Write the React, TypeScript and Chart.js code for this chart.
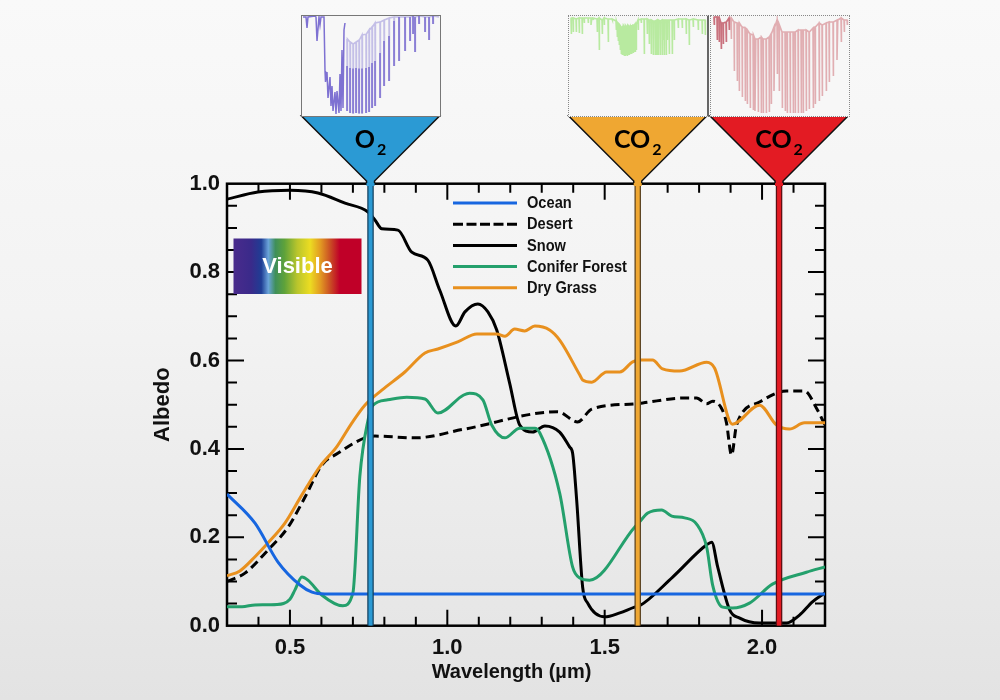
import React, { useEffect, useRef } from "react";
import { Chart, registerables } from "chart.js";

Chart.register(...registerables);

type Pt = [number, number];
type Comb = [number, number, number];

const oceanData: Pt[] = [[0.3,0.298],[0.389,0.232],[0.462,0.144],[0.532,0.092],[0.57,0.076],[0.611,0.072],[1.0,0.072],[1.6,0.072],[2.2,0.072]];
const desertData: Pt[] = [[0.3,0.1],[0.357,0.119],[0.43,0.171],[0.494,0.223],[0.548,0.291],[0.602,0.364],[0.652,0.39],[0.738,0.425],[0.77,0.429],[0.897,0.425],[1.056,0.445],[1.351,0.484],[1.414,0.461],[1.459,0.49],[1.595,0.502],[1.621,0.504],[1.748,0.515],[1.792,0.515],[1.824,0.502],[1.843,0.508],[1.871,0.492],[1.887,0.459],[1.903,0.386],[1.919,0.454],[1.992,0.506],[2.078,0.531],[2.135,0.531],[2.173,0.492],[2.2,0.454]];
const snowData: Pt[] = [[0.3,0.965],[0.398,0.981],[0.5,0.985],[0.589,0.979],[0.675,0.956],[0.748,0.936],[0.77,0.918],[0.792,0.898],[0.843,0.895],[0.887,0.845],[0.938,0.827],[0.976,0.759],[1.027,0.678],[1.056,0.71],[1.097,0.728],[1.129,0.71],[1.157,0.669],[1.198,0.549],[1.23,0.454],[1.271,0.438],[1.31,0.452],[1.357,0.438],[1.389,0.404],[1.398,0.391],[1.411,0.284],[1.43,0.087],[1.446,0.051],[1.5,0.02],[1.548,0.029],[1.595,0.042],[1.611,0.045],[1.716,0.11],[1.824,0.183],[1.84,0.189],[1.859,0.133],[1.897,0.036],[1.929,0.017],[1.992,0.006],[2.078,0.006],[2.119,0.024],[2.16,0.054],[2.2,0.074]];
const coniferData: Pt[] = [[0.3,0.043],[0.348,0.043],[0.389,0.047],[0.459,0.048],[0.5,0.06],[0.516,0.081],[0.538,0.11],[0.557,0.103],[0.602,0.069],[0.668,0.045],[0.7,0.074],[0.722,0.337],[0.748,0.465],[0.763,0.498],[0.811,0.511],[0.871,0.517],[0.929,0.513],[0.97,0.481],[1.052,0.522],[1.071,0.526],[1.113,0.511],[1.141,0.454],[1.183,0.425],[1.23,0.447],[1.278,0.447],[1.294,0.436],[1.357,0.3],[1.398,0.133],[1.421,0.108],[1.452,0.103],[1.595,0.223],[1.611,0.235],[1.637,0.255],[1.681,0.262],[1.713,0.248],[1.754,0.244],[1.792,0.23],[1.824,0.178],[1.843,0.092],[1.875,0.042],[1.906,0.04],[1.96,0.051],[2.033,0.094],[2.141,0.121],[2.2,0.133]];
const grassData: Pt[] = [[0.3,0.113],[0.341,0.124],[0.389,0.156],[0.43,0.187],[0.484,0.232],[0.538,0.296],[0.595,0.36],[0.649,0.405],[0.697,0.459],[0.738,0.499],[0.792,0.533],[0.865,0.574],[0.929,0.617],[0.97,0.626],[1.033,0.642],[1.094,0.66],[1.157,0.66],[1.183,0.655],[1.214,0.671],[1.246,0.667],[1.278,0.678],[1.325,0.669],[1.357,0.646],[1.421,0.567],[1.43,0.556],[1.459,0.551],[1.506,0.574],[1.548,0.574],[1.589,0.597],[1.611,0.601],[1.652,0.601],[1.684,0.581],[1.738,0.576],[1.824,0.596],[1.849,0.583],[1.906,0.456],[1.992,0.499],[2.046,0.454],[2.087,0.445],[2.135,0.459],[2.2,0.459]];

const seriesNames = ["Ocean", "Desert", "Snow", "Conifer Forest", "Dry Grass"];
const seriesColors = ["#1766e0", "#000000", "#000000", "#24a06c", "#e8901e"];
const xTickValues = [0.5, 1.0, 1.5, 2.0];
const xMinorTicks = [0.4, 0.5, 0.6, 0.7, 0.8, 0.9, 1.0, 1.1, 1.2, 1.3, 1.4, 1.5, 1.6, 1.7, 1.8, 1.9, 2.0, 2.1];
const yMinorTicks = [0.05, 0.1, 0.15, 0.2, 0.25, 0.3, 0.35, 0.4, 0.45, 0.5, 0.55, 0.6, 0.65, 0.7, 0.75, 0.8, 0.85, 0.9, 0.95];
const bandWavelengths = [0.756, 1.605, 2.054];
const bandColors = ["#2b9ad4", "#efa732", "#e31b23"];
const bandEdges = ["#12405f", "#5b4320", "#5c1014"];
const bandGases = ["O", "CO", "CO"];

// inset spectra: [position, continuum %, dip %]
const o2Left: Pt[] = [[1,99],[4,99],[5,88],[6,99],[13,100],[14,99],[15,75],[17,99],[18,91],[19,99],[22,99],[23,45],[23.5,34],[25,44],[26,18],[28,39],[29,10],[30,30],[31,5],[33,24],[34,2],[35,25],[37,3],[38,42],[39,5],[40,66],[41,8],[42,86],[43,93]];
const o2Comb: Comb[] = [[45,77,5],[48,74,3],[51,72,2.5],[54,74,3],[57,76,2.5],[60,81,2.5],[64,82,3],[67,86,4],[70,89,8],[73,93,10],[78,94,18],[82,96,30],[87,98,35],[92,99,50],[97,99,55],[103,99,65],[108,99,75],[111,100,82],[113,99,64],[117,100,92],[123,99,84],[127,99,76],[131,100,92],[137,99,99]];
const co2AComb: Comb[] = [[2,98,82],[4,98,84],[7,97,84],[10,98,83],[13,98,82],[15,98,93],[19,98,93],[22,98,91],[24,98,96],[28,97,84],[30,98,66],[33,96,82],[35,98,91],[39,97,74],[43,97,96],[47,95,86],[48,93,79],[49,92,75],[50,91,71],[51,90,66],[52,89,62],[53,89,61],[54,90,61],[55,89,60],[56,90,60],[57,89,61],[58,90,60],[59,90,61],[60,89,61],[61,90,62],[62,90,62],[63,91,63],[64,91,63],[65,91,64],[66,92,64],[67,92,66],[69,96,86],[72,97,93],[75,97,62],[78,97,82],[80,96,72],[82,96,62],[84,95,61],[86,95,61],[88,96,61],[89,96,61],[91,95,61],[93,96,61],[94,96,76],[95,96,61],[97,96,61],[98,96,76],[100,96,62],[103,96,62],[105,96,76],[109,97,88],[113,97,88],[117,97,82],[120,96,71],[124,97,89],[129,96,86],[133,96,82],[136,96,81]];
const co2BComb: Comb[] = [[3,99,91],[6,99,76],[8,98,74],[10,93,67],[12,93,72],[15,94,74],[18,98,86],[20,98,77],[23,94,45],[26,93,35],[28,93,25],[31,89,19],[34,88,15],[36,86,12],[39,82,8],[42,81,6],[44,77,5],[47,77,4],[50,79,3],[52,77,3],[55,77,3],[58,79,4],[60,82,12],[63,89,25],[66,96,42],[68,91,25],[71,84,8],[74,84,5],[76,84,3],[79,84,3],[82,84,3],[84,84,3],[87,86,3],[90,86,3],[92,86,3],[95,86,5],[98,84,7],[102,88,8],[104,89,12],[108,93,15],[111,91,20],[115,93,25],[118,94,34],[122,94,40],[126,96,56],[130,98,74],[133,96,84],[136,96,91]];

const PLOT = { left: 227, right: 825, top: 183.7, bottom: 625.7 };

const toXY = (rows: Pt[]) => rows.map(([x, y]) => ({ x, y }));
const combToXY = (rows: Comb[]) =>
  rows.flatMap(([x, top, dip]) => [{ x, y: top }, { x, y: dip }, { x: x + 0.8, y: top }]);
const lowerParts = (rows: Comb[], span: number) =>
  rows.flatMap(([x, top, dip]) => [{ x, y: dip }, { x, y: Math.min(top, dip + span) }, { x, y: NaN }]);

function drawGasLabel(ctx: CanvasRenderingContext2D, gas: string, cx: number) {
  ctx.fillStyle = "#000";
  ctx.textBaseline = "alphabetic";
  ctx.textAlign = "left";
  ctx.font = "bold 25px Lato";
  const w = ctx.measureText(gas).width;
  ctx.font = "bold 16px Lato";
  const w2 = ctx.measureText("2").width;
  const x0 = cx - (w + w2 + 2) / 2;
  ctx.font = "bold 25px Lato";
  ctx.fillText(gas, x0, 148);
  ctx.font = "bold 16px Lato";
  ctx.fillText("2", x0 + w + 2, 155);
}

const decorations = {
  id: "decorations",
  beforeDatasetsDraw(chart: any) {
    const { ctx, scales } = chart;
    const { x, y } = scales;
    ctx.save();
    ctx.strokeStyle = "#000";
    ctx.lineWidth = 2;
    ctx.beginPath();
    xMinorTicks.forEach((v) => {
      const p = x.getPixelForValue(v);
      const len = xTickValues.some((t) => Math.abs(t - v) < 1e-6) ? 16 : 9;
      ctx.moveTo(p, PLOT.bottom); ctx.lineTo(p, PLOT.bottom - len);
      ctx.moveTo(p, PLOT.top); ctx.lineTo(p, PLOT.top + len);
    });
    yMinorTicks.forEach((v, i) => {
      const p = y.getPixelForValue(v);
      const len = (i + 1) % 4 === 0 ? 17 : 10;
      ctx.moveTo(PLOT.left, p); ctx.lineTo(PLOT.left + len, p);
      ctx.moveTo(PLOT.right, p); ctx.lineTo(PLOT.right - len, p);
    });
    ctx.stroke();
    ctx.lineWidth = 2.5;
    ctx.strokeRect(PLOT.left, PLOT.top, PLOT.right - PLOT.left, PLOT.bottom - PLOT.top);

    // axis title, set left of the plot's centre as in the reference
    ctx.fillStyle = "#111";
    ctx.font = "bold 20px 'Liberation Sans'";
    ctx.textAlign = "center";
    ctx.textBaseline = "middle";
    ctx.fillText("Wavelength (µm)", 511.5, 672);

    // visible-light swatch
    const g = ctx.createLinearGradient(233, 0, 361.5, 0);
    [[0,"#4a2b8c"],[0.14,"#3a2a8a"],[0.22,"#1f3d94"],[0.275,"#6aa3da"],[0.33,"#3f8f5a"],[0.4,"#5ea23a"],[0.5,"#b9c52c"],[0.6,"#ecdc22"],[0.68,"#e29a22"],[0.76,"#c94a24"],[0.83,"#c00028"],[1,"#c00028"]].forEach(([o, c]) => g.addColorStop(o as number, c as string));
    ctx.fillStyle = g;
    ctx.fillRect(233.5, 238.5, 128, 55.5);
    ctx.fillStyle = "#fff";
    ctx.font = "bold 22px 'Liberation Sans'";
    ctx.fillText("Visible", 297.5, 266.5);

    // legend
    seriesNames.forEach((name, i) => {
      const ly = 203 + i * 21.2;
      ctx.strokeStyle = seriesColors[i];
      ctx.lineWidth = 3;
      ctx.setLineDash(name === "Desert" ? [10, 3.5] : []);
      ctx.beginPath();
      ctx.moveTo(453, ly);
      ctx.lineTo(517, ly);
      ctx.stroke();
      ctx.setLineDash([]);
      ctx.fillStyle = "#111";
      ctx.textAlign = "left";
      ctx.font = "bold 17px 'Liberation Sans'";
      ctx.save();
      ctx.translate(527, ly + 0.5);
      ctx.scale(0.86, 1);
      ctx.fillText(name, 0, 0);
      ctx.restore();
    });
    ctx.restore();
  },
  afterDatasetsDraw(chart: any) {
    const { ctx, scales } = chart;
    const { x } = scales;
    ctx.save();
    bandWavelengths.forEach((w, i) => {
      const cx = x.getPixelForValue(w);
      ctx.beginPath();
      ctx.moveTo(cx - 69, 116);
      ctx.lineTo(cx + 69, 116);
      ctx.lineTo(cx + 4, 181);
      ctx.lineTo(cx + 4, 186);
      ctx.lineTo(cx - 4, 186);
      ctx.lineTo(cx - 4, 181);
      ctx.closePath();
      ctx.fillStyle = bandColors[i];
      ctx.fill();
      ctx.strokeStyle = "#111";
      ctx.lineWidth = 1.5;
      ctx.beginPath();
      ctx.moveTo(cx - 4, 183);
      ctx.lineTo(cx - 4, 181);
      ctx.lineTo(cx - 69, 116);
      ctx.lineTo(cx + 69, 116);
      ctx.lineTo(cx + 4, 181);
      ctx.lineTo(cx + 4, 183);
      ctx.stroke();
      drawGasLabel(ctx, bandGases[i], cx);
    });
    ctx.restore();
  },
};

function Inset({ left, border, rows, accent, pale, dark, span }: any) {
  const ref = useRef<HTMLCanvasElement>(null);
  useEffect(() => {
    const common = { pointRadius: 0, tension: 0, spanGaps: false };
    const chart = new Chart(ref.current!, {
      type: "line",
      data: {
        datasets: [
          { ...common, data: lowerParts(rows, span), borderColor: dark, borderWidth: 1.5 },
          { ...common, data: accent, borderColor: dark, borderWidth: 1.5 },
          { ...common, data: combToXY(rows), borderColor: pale, borderWidth: 1.6 },
        ],
      },
      options: {
        animation: false,
        responsive: false,
        layout: { padding: 0 },
        plugins: { legend: { display: false }, tooltip: { enabled: false } },
        scales: {
          x: { type: "linear", display: false, min: 0, max: 138 },
          y: { display: false, min: 0, max: 100 },
        },
      },
    } as any);
    return () => chart.destroy();
  }, []);
  return (
    <canvas
      ref={ref}
      width={138}
      height={100}
      style={{ position: "absolute", left, top: 15, width: 138, height: 100, boxSizing: "content-box", ...border }}
    />
  );
}

export default function App() {
  const ref = useRef<HTMLCanvasElement>(null);
  useEffect(() => {
    const line = (label: string, rows: Pt[], color: string, extra = {}) => ({
      label,
      data: toXY(rows),
      borderColor: color,
      borderWidth: 3,
      pointRadius: 0,
      cubicInterpolationMode: "monotone",
      ...extra,
    });
    const band = (i: number, color: string, w: number) => ({
      label: "band",
      data: [{ x: bandWavelengths[i], y: 0 }, { x: bandWavelengths[i], y: 1 }],
      borderColor: color,
      borderWidth: w,
      pointRadius: 0,
    });
    const chart = new Chart(ref.current!, {
      type: "line",
      data: {
        datasets: [
          band(0, bandColors[0], 4), band(1, bandColors[1], 4), band(2, bandColors[2], 4),
          band(0, bandEdges[0], 6.5), band(1, bandEdges[1], 6.5), band(2, bandEdges[2], 6.5),
          line(seriesNames[0], oceanData, seriesColors[0]),
          line(seriesNames[4], grassData, seriesColors[4]),
          line(seriesNames[3], coniferData, seriesColors[3]),
          line(seriesNames[2], snowData, seriesColors[2]),
          line(seriesNames[1], desertData, seriesColors[1], { borderDash: [9, 5] }),
        ],
      },
      options: {
        animation: false,
        responsive: false,
        layout: { padding: { left: 0, right: 1000 - PLOT.right, top: PLOT.top, bottom: 0 } },
        plugins: { legend: { display: false }, tooltip: { enabled: false } },
        scales: {
          x: {
            type: "linear",
            min: 0.3,
            max: 2.2,
            grid: { display: false, drawTicks: false },
            border: { display: false },
            afterBuildTicks: (s: any) => { s.ticks = xTickValues.map((value) => ({ value })); },
            afterFit: (s: any) => { s.height = 700 - PLOT.bottom; },
            ticks: {
              autoSkip: false,
              maxRotation: 0,
              padding: 9,
              color: "#111",
              font: { family: "'Liberation Sans'", weight: "bold", size: 22 },
              callback: (v: any) => Number(v).toFixed(1),
            },
          },
          y: {
            min: 0,
            max: 1,
            grid: { display: false, drawTicks: false },
            border: { display: false },
            afterFit: (s: any) => { s.width = PLOT.left; },
            ticks: {
              stepSize: 0.2,
              padding: 7,
              color: "#111",
              font: { family: "'Liberation Sans'", weight: "bold", size: 22 },
              callback: (v: any) => Number(v).toFixed(1),
            },
            title: {
              display: true,
              text: "Albedo",
              color: "#111",
              padding: { top: 150, bottom: 0 },
              font: { family: "'Liberation Sans'", weight: "bold", size: 22 },
            },
          },
        },
      },
      plugins: [decorations],
    } as any);
    return () => chart.destroy();
  }, []);

  const page: React.CSSProperties = {
    position: "absolute",
    left: 0,
    top: 0,
    width: 1000,
    height: 700,
    overflow: "hidden",
    background: "linear-gradient(180deg,#f9f9f9 0%,#f3f3f3 45%,#e3e3e3 100%)",
  };
  return (
    <div style={page}>
      <canvas ref={ref} width={1000} height={700} style={{ position: "absolute", left: 0, top: 0 }} />
      <Inset
        left={301}
        border={{ border: "1px solid #777", background: "#f7f7f7" }}
        rows={o2Comb}
        accent={toXY(o2Left)}
        pale="rgba(190,184,228,0.9)"
        dark="rgba(112,98,205,0.9)"
        span={45}
      />
      <Inset
        left={568}
        border={{ border: "1px dotted #888", borderRight: "2px solid #666", background: "#f7f7f7" }}
        rows={co2AComb}
        accent={[]}
        pale="rgba(176,232,150,0.9)"
        dark="rgba(176,232,150,0.9)"
        span={0}
      />
      <Inset
        left={710}
        border={{ border: "1px dotted #888", background: "#f7f7f7" }}
        rows={co2BComb}
        accent={combToXY(co2BComb.slice(0, 7))}
        pale="rgba(222,165,170,0.9)"
        dark="rgba(198,105,118,0.85)"
        span={0}
      />
    </div>
  );
}
